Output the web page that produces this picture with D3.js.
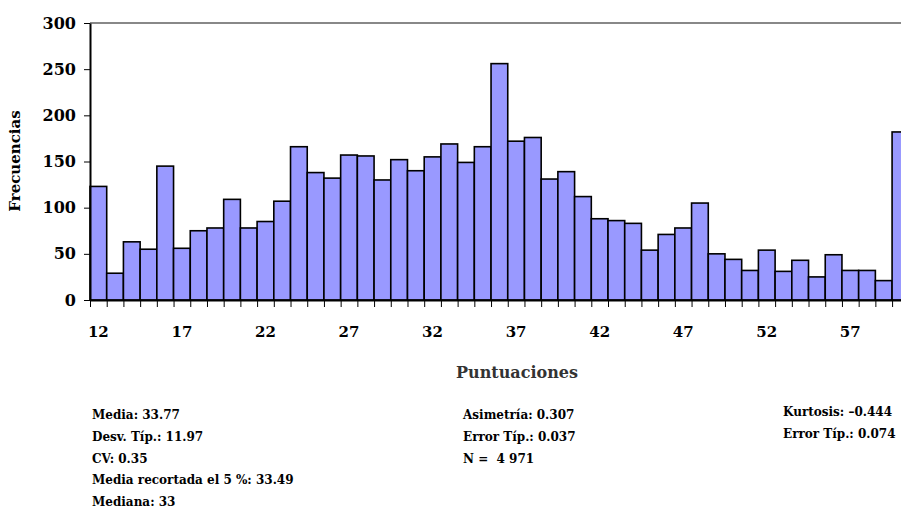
<!DOCTYPE html>
<html>
<head>
<meta charset="utf-8">
<script src="https://cdn.jsdelivr.net/npm/d3@7"></script>
<style>
  body { margin: 0; background: #fff; }
  svg { display: block; overflow: hidden; }
</style>
</head>
<body>
<div id="chart"></div>
<script>
// Scores 12..60 (last bar is cut by the right edge of the picture)
const scores = d3.range(12, 61);
const freqs = [123, 29, 63, 55, 145, 56, 75, 78, 109, 78, 85, 107, 166,
               138, 132, 157, 156, 130, 152, 140, 155, 169, 149, 166, 256,
               172, 176, 131, 139, 112, 88, 86, 83, 54, 71, 78, 105, 50,
               44, 32, 54, 31, 43, 25, 49, 32, 32, 21, 182];
const xLabels = [12, 17, 22, 27, 32, 37, 42, 47, 52, 57];
const yTicks = [0, 50, 100, 150, 200, 250, 300];

const statsLeft = ["Media: 33.77", "Desv. Típ.: 11.97", "CV: 0.35",
                   "Media recortada el 5 %: 33.49", "Mediana: 33"];
const statsMid = ["Asimetría: 0.307", "Error Típ.: 0.037", "N =\u00a0 4 971"];
const statsRight = ["Kurtosis: \u20130.444", "Error Típ.: 0.074"];

const data = scores.map((s, i) => ({ score: s, freq: freqs[i] }));

const font = "'DejaVu Serif', 'Liberation Serif', serif";
const width = 901, height = 507;
const plotLeft = 90, plotTop = 23, plotBottom = 300;
const barW = 16.71;
const plotRight = plotLeft + barW * scores.length;

const svg = d3.select("#chart").append("svg")
    .attr("width", width)
    .attr("height", height);

const x = d3.scaleBand()
    .domain(scores)
    .range([plotLeft, plotRight])
    .padding(0);

const xEdge = d3.scaleLinear()
    .domain([0, scores.length])
    .range([plotLeft, plotRight]);

const y = d3.scaleLinear()
    .domain([0, 300])
    .range([plotBottom, plotTop]);

// Top frame line of the plot area
svg.append("line")
    .attr("x1", plotLeft).attr("x2", width)
    .attr("y1", y(300)).attr("y2", y(300))
    .attr("stroke", "#888")
    .attr("stroke-width", 2);

// Bars
svg.append("g")
    .selectAll("rect")
    .data(data)
    .enter()
    .append("rect")
    .attr("x", d => x(d.score))
    .attr("y", d => y(d.freq))
    .attr("width", x.bandwidth())
    .attr("height", d => y(0) - y(d.freq))
    .attr("fill", "#9999ff")
    .attr("stroke", "#000")
    .attr("stroke-width", 1.6);

// Bottom axis: ticks at bar edges
const xTickAxis = svg.append("g")
    .attr("transform", `translate(0,${plotBottom})`)
    .call(d3.axisBottom(xEdge)
        .tickValues(d3.range(0, scores.length + 1))
        .tickFormat("")
        .tickSize(7)
        .tickSizeOuter(0));
xTickAxis.select(".domain").attr("stroke", "#000").attr("stroke-width", 2.2);
xTickAxis.selectAll(".tick line").attr("stroke", "#000").attr("stroke-width", 1);

// Bottom axis labels
const xLabAxis = svg.append("g")
    .attr("transform", `translate(0,${plotBottom})`)
    .call(d3.axisBottom(x)
        .tickValues(xLabels)
        .tickSize(0)
        .tickPadding(26));
xLabAxis.select(".domain").remove();
xLabAxis.selectAll("text")
    .attr("font-family", font)
    .attr("font-weight", "bold")
    .attr("font-size", "15px")
    .attr("fill", "#000");

// Left axis
const yAxis = svg.append("g")
    .attr("transform", `translate(${plotLeft},0)`)
    .call(d3.axisLeft(y)
        .tickValues(yTicks)
        .tickSize(6)
        .tickSizeOuter(0)
        .tickPadding(8));
yAxis.select(".domain").attr("stroke", "#000").attr("stroke-width", 2);
yAxis.selectAll(".tick line").attr("stroke", "#000").attr("stroke-width", 1);
yAxis.selectAll("text")
    .attr("font-family", font)
    .attr("font-weight", "bold")
    .attr("font-size", "16px")
    .attr("fill", "#000");

// Axis titles
svg.append("text")
    .attr("font-family", font)
    .attr("font-weight", "bold")
    .style("font-size", "15px")
    .attr("text-anchor", "middle")
    .attr("transform", "rotate(-90)")
    .attr("x", -161)
    .attr("y", 20)
    .text("Frecuencias");

svg.append("text")
    .attr("font-family", font)
    .attr("font-weight", "bold")
    .style("font-size", "16px")
    .attr("fill", "#333")
    .attr("text-anchor", "middle")
    .attr("x", 517)
    .attr("y", 378)
    .text("Puntuaciones");

// Statistics block
function addStats(lines, xPos, yStart, step) {
    svg.append("g")
        .selectAll("text")
        .data(lines)
        .enter()
        .append("text")
        .attr("font-family", font)
        .attr("font-weight", "bold")
        .style("font-size", "12px")
        .attr("fill", "#000")
        .attr("x", xPos)
        .attr("y", (d, i) => yStart + i * step)
        .text(d => d);
}
addStats(statsLeft, 92, 419, 21.8);
addStats(statsMid, 463, 419, 21.8);
addStats(statsRight, 783, 416, 21.7);
</script>
</body>
</html>
